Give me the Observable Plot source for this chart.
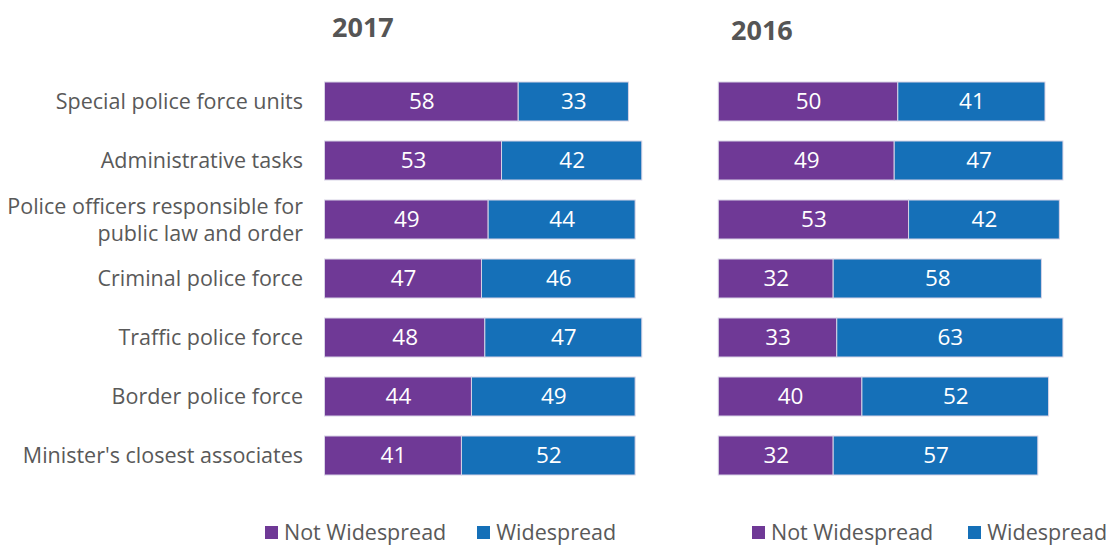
<!DOCTYPE html>
<html><head><meta charset="utf-8">
<script src="https://cdn.jsdelivr.net/npm/d3@7"></script>
<script src="https://cdn.jsdelivr.net/npm/@observablehq/plot@0.6"></script>
<style>
body{margin:0;background:#fff;}
#wrap{position:relative;width:1110px;height:548px;overflow:hidden;font-family:"Open Sans",sans-serif;color:#595959;}
#wrap svg{position:absolute;left:0;top:0;}
.title{position:absolute;font-weight:bold;font-size:27px;line-height:27px;color:#555;}
.leg{position:absolute;top:520px;font-size:21.5px;line-height:24px;color:#595959;white-space:nowrap;display:flex;align-items:center;}
.sw{display:inline-block;width:13px;height:13px;margin-right:6px;}
</style></head>
<body><div id="wrap"></div>
<script>
const categories = ["Special police force units","Administrative tasks","Police officers responsible for\npublic law and order","Criminal police force","Traffic police force","Border police force","Minister's closest associates"];
const series = ["Not Widespread","Widespread"];
const notWide2017 = [58,53,49,47,48,44,41];
const wide2017 = [33,42,44,46,47,49,52];
const notWide2016 = [50,49,53,32,33,40,32];
const wide2016 = [41,47,42,58,63,52,57];
const years = ["2017","2016"];
const colors = ["#6f3996","#1570b8"];

function rows(nw, w){
  const out = [];
  categories.forEach((c,i)=>{
    out.push({category:c, series:series[0], value:nw[i]});
    out.push({category:c, series:series[1], value:w[i]});
  });
  return out;
}
const W=1110, H=510, mt=61.8, mb=H-61.8-433.06;
function panel(data, left, right, withAxis){
  const marks = [
    Plot.barX(data, Plot.stackX({y:"category", x:"value", fill:"series", stroke:"#d8d3e6", strokeWidth:1})),
    Plot.text(data, Plot.stackX({y:"category", x:"value", text:"value", fill:"white", fontSize:22.5}))
  ];
  if (withAxis) marks.push(Plot.axisY({tickSize:0, tickPadding:22, fontSize:21.5, fill:"#595959", lineHeight:1.25, dy:-1.5}));
  return Plot.plot({
    width:W, height:H, marginLeft:left, marginRight:W-right, marginTop:mt, marginBottom:mb,
    style:{fontFamily:"Open Sans", background:"transparent", overflow:"visible"},
    x:{domain:[0,100], axis:null},
    y:{domain:categories, padding:0.34, axis:null, label:null},
    color:{domain:series, range:colors},
    marks
  });
}
const wrap = document.getElementById("wrap");
wrap.appendChild(panel(rows(notWide2017, wide2017), 324.5, 658.5, true));
wrap.appendChild(panel(rows(notWide2016, wide2016), 718.3, 1077.3, false));

function addTitle(t, x, y){
  const d=document.createElement("div"); d.className="title"; d.textContent=t;
  d.style.left=x+"px"; d.style.top=y+"px"; wrap.appendChild(d);
}
addTitle(years[0], 332, 13);
addTitle(years[1], 731, 16);

function addLegend(x, gap){
  const d=document.createElement("div"); d.className="leg"; d.style.left=x+"px";
  series.forEach((s,i)=>{
    const sp=document.createElement("span"); sp.style.display="inline-flex"; sp.style.alignItems="center";
    if(i>0) sp.style.marginLeft=gap+"px";
    const sw=document.createElement("span"); sw.className="sw"; sw.style.background=colors[i];
    sp.appendChild(sw); sp.appendChild(document.createTextNode(s)); d.appendChild(sp);
  });
  wrap.appendChild(d);
}
addLegend(265, 31);
addLegend(752, 35);
</script></body></html>
